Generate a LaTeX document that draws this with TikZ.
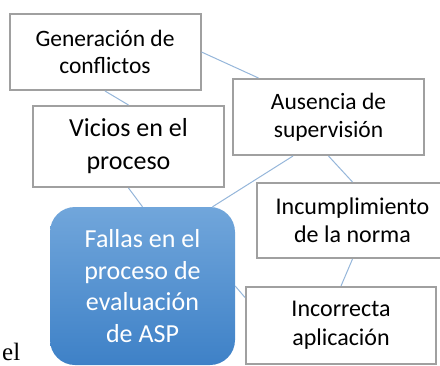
\documentclass[tikz,border=0pt]{standalone}
\usepackage{fontspec}
\setmainfont{Carlito}
\newfontfamily\bodyserif{Liberation Serif}
\definecolor{boxgray}{RGB}{160,160,160}
\definecolor{linkblue}{RGB}{149,182,218}
\definecolor{fallatop}{RGB}{113,166,219}
\definecolor{fallabot}{RGB}{62,129,199}
\begin{document}
\begin{tikzpicture}[x=1pt, y=-1pt,
  causa/.style={draw=boxgray, line width=2pt, fill=white, align=center,
    minimum width=191pt, minimum height=76pt, inner sep=0pt,
    font=\fontsize{23.5}{27.5}\selectfont},
  falla/.style={rounded corners=25pt, top color=fallatop, bottom color=fallabot,
    text=white, align=center, minimum width=185pt, minimum height=158pt,
    inner sep=0pt, font=\fontsize{26}{31.5}\selectfont},
  enlace/.style={draw=linkblue, line width=1pt}]
\useasboundingbox (0,0) rectangle (440,365);
\clip (0,0) rectangle (440,365);
% causas
\node[causa] (gen) at (105,52) {Generación de\\conflictos};
\node[causa, minimum height=81pt, font=\fontsize{26}{33}\selectfont] (vic) at (128.5,146.5) {Vicios en el\\proceso};
\node[causa] (aus) at (328.5,117) {Ausencia de\\supervisión};
\node[causa, minimum height=75pt, font=\fontsize{24}{28}\selectfont] (inc) at (352.5,220.5) {Incumplimiento\\de la norma};
\node[causa, minimum width=190pt, minimum height=77pt, font=\fontsize{24}{29}\selectfont] (apl) at (341,325.5) {Incorrecta\\aplicación};
% problema central
\node[falla] (fal) at (142.5,286) {Fallas en el\\proceso de\\evaluación\\de ASP};
\node[font=\bodyserif\fontsize{25}{25}\selectfont, anchor=base west, inner sep=0pt] (el) at (2,360) {el};
% enlaces
\draw[enlace] (gen.south) -- (vic.north);
\draw[enlace] (gen.east) -- ([xshift=-70pt]aus.north);
\draw[enlace] (vic.south) -- (fal.north);
\draw[enlace] ([xshift=-35.5pt]aus.south) -- ([xshift=70pt]fal.north);
\draw[enlace] (aus.south) -- (inc.north);
\draw[enlace] (inc.south) -- (apl.north);
\draw[enlace] (fal.east) -- ([yshift=28pt]apl.west);
\end{tikzpicture}
\end{document}
